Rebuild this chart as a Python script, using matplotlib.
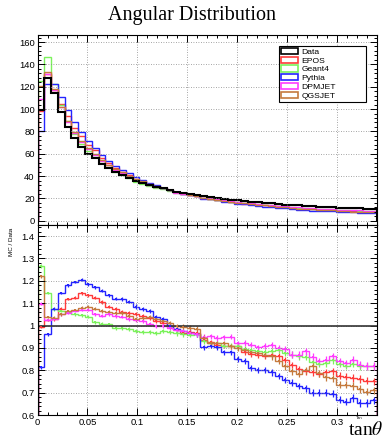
import numpy as np
import matplotlib
matplotlib.use('Agg')
import matplotlib.pyplot as plt
from matplotlib.patches import Rectangle

plt.rcParams['font.family'] = ['Liberation Sans', 'DejaVu Sans']
plt.rcParams['mathtext.fontset'] = 'stix'

# 50 bins in tan(theta), 0 .. 0.34
edges = np.linspace(0, 0.34, 51)

data_counts = [99, 128, 114, 97, 84, 74, 66, 60, 56, 51,
               47.5, 44, 41, 38.5, 36, 34, 32, 30.5, 29, 27.5,
               25.8, 24.7, 23.7, 22.8, 21.9, 21.1, 20.3, 19.6, 18.9, 18.2,
               17.6, 17.0, 16.5, 16.0, 15.5, 15.0, 14.6, 14.2, 13.8, 13.4,
               13.1, 12.8, 12.5, 12.2, 11.9, 11.6, 11.4, 11.2, 11.0, 10.8]

# MC / Data ratios
ratio_epos = [0.995, 1.025, 1.028, 1.075, 1.118, 1.125, 1.145, 1.135, 1.125, 1.105,
              1.085, 1.073, 1.06, 1.055, 1.05, 1.043, 1.034, 1.02, 1.01, 0.998,
              0.983, 0.968, 0.972, 0.967, 0.937, 0.925, 0.915, 0.91, 0.907, 0.91,
              0.88, 0.874, 0.87, 0.865, 0.87, 0.862, 0.847, 0.825, 0.805, 0.795,
              0.79, 0.783, 0.79, 0.795, 0.775, 0.772, 0.765, 0.76, 0.754, 0.75]
ratio_geant4 = [1.265, 1.145, 1.072, 1.065, 1.06, 1.05, 1.045, 1.04, 1.015, 1.008,
                1.005, 0.99, 0.99, 0.985, 0.975, 0.97, 0.97, 0.965, 0.975, 0.97,
                0.965, 0.96, 0.958, 0.96, 0.93, 0.92, 0.92, 0.91, 0.91, 0.907,
                0.895, 0.89, 0.885, 0.88, 0.885, 0.89, 0.877, 0.87, 0.862, 0.86,
                0.835, 0.83, 0.832, 0.845, 0.83, 0.82, 0.83, 0.82, 0.817, 0.817]
ratio_pythia = [0.813, 0.96, 1.076, 1.145, 1.18, 1.195, 1.205, 1.185, 1.17, 1.155,
                1.135, 1.12, 1.118, 1.107, 1.085, 1.076, 1.065, 1.04, 1.028, 1.0,
                0.983, 0.975, 0.968, 0.96, 0.902, 0.91, 0.903, 0.88, 0.88, 0.85,
                0.84, 0.81, 0.80, 0.80, 0.79, 0.773, 0.758, 0.745, 0.73, 0.72,
                0.70, 0.70, 0.70, 0.695, 0.668, 0.66, 0.675, 0.655, 0.655, 0.665]
ratio_dpmjet = [1.098, 1.025, 1.03, 1.05, 1.057, 1.065, 1.07, 1.07, 1.05, 1.043,
                1.05, 1.043, 1.04, 1.03, 1.025, 1.02, 1.005, 0.998, 1.0, 0.99,
                0.982, 0.975, 0.967, 0.96, 0.95, 0.952, 0.945, 0.947, 0.95, 0.92,
                0.922, 0.915, 0.902, 0.907, 0.913, 0.9, 0.895, 0.87, 0.87, 0.885,
                0.86, 0.84, 0.847, 0.862, 0.84, 0.832, 0.845, 0.825, 0.82, 0.82]
ratio_qgsjet = [1.22, 1.038, 1.035, 1.05, 1.065, 1.07, 1.08, 1.085, 1.075, 1.065,
                1.06, 1.057, 1.055, 1.043, 1.028, 1.035, 1.04, 1.028, 1.02, 1.012,
                0.998, 0.995, 0.99, 0.985, 0.945, 0.92, 0.92, 0.92, 0.907, 0.9,
                0.89, 0.88, 0.877, 0.87, 0.862, 0.84, 0.817, 0.795, 0.785, 0.8,
                0.817, 0.787, 0.77, 0.765, 0.735, 0.735, 0.73, 0.715, 0.705, 0.71]

ratio_err = [0.008, 0.006, 0.006, 0.006, 0.006, 0.006, 0.007, 0.007, 0.007, 0.007,
             0.008, 0.008, 0.008, 0.008, 0.009, 0.009, 0.009, 0.009, 0.010, 0.010,
             0.010, 0.010, 0.011, 0.011, 0.011, 0.011, 0.012, 0.012, 0.012, 0.012,
             0.013, 0.013, 0.013, 0.013, 0.014, 0.014, 0.014, 0.014, 0.015, 0.015,
             0.015, 0.015, 0.016, 0.016, 0.016, 0.016, 0.017, 0.017, 0.017, 0.017]

models = ['EPOS', 'Geant4', 'Pythia', 'DPMJET', 'QGSJET']
ratios = [ratio_epos, ratio_geant4, ratio_pythia, ratio_dpmjet, ratio_qgsjet]
colors = ['#ff3b3b', '#7cf25c', '#2424ff', '#ff3cff', '#c57a3e']

data = np.array(data_counts)
centers = 0.5 * (edges[:-1] + edges[1:])

fig = plt.figure(figsize=(3.84, 4.40), dpi=100)
ax1 = fig.add_axes([0.0977, 0.489, 0.8841, 0.432])
ax2 = fig.add_axes([0.0977, 0.0568, 0.8841, 0.4322])

# upper pad: distributions
for name, r, c in zip(models, ratios, colors):
    ax1.stairs(data * np.array(r), edges, color=c, lw=1.0)
ax1.stairs(data, edges, color='black', lw=1.5)

ax1.set_xlim(0, 0.34)
ax1.set_ylim(-3.6, 166.5)
ax1.set_yticks(np.arange(0, 161, 20))
ax1.set_yticks(np.arange(0, 166, 4), minor=True)
ax1.tick_params(labelbottom=False)

handles = [Rectangle((0, 0), 1, 1, facecolor='white', edgecolor='black', lw=1.2)]
handles += [Rectangle((0, 0), 1, 1, facecolor='white', edgecolor=c, lw=1.2) for c in colors]
leg = ax1.legend(handles, ['Data'] + models, loc='upper left',
                 bbox_to_anchor=(0.712, 0.643, 0.256, 0.299), mode='expand',
                 fontsize=6.1, handlelength=2.0, handleheight=0.75, labelspacing=0.08,
                 borderpad=0.25, handletextpad=0.4, borderaxespad=0, fancybox=False,
                 framealpha=1, edgecolor='black')
leg.get_frame().set_linewidth(0.8)

# lower pad: ratios
for r, c in zip(ratios, colors):
    ax2.stairs(r, edges, color=c, lw=1.0)
    ax2.errorbar(centers, r, yerr=ratio_err, fmt='s', color=c, ms=1.8, elinewidth=0.9,
                 capsize=0, mew=0)
ax2.hlines(1.0, edges[0], edges[-1], color='#333333', lw=1.2)

ax2.set_xlim(0, 0.34)
ax2.set_ylim(0.6, 1.45)
ax2.set_yticks(np.arange(0.6, 1.41, 0.1))
ax2.set_yticklabels(['0.6', '0.7', '0.8', '0.9', '1', '1.1', '1.2', '1.3', '1.4'])
ax2.set_yticks(np.arange(0.6, 1.45, 0.02), minor=True)
ax2.set_xticks([0, 0.05, 0.1, 0.15, 0.2, 0.25, 0.3])
ax2.set_xticklabels(['0', '0.05', '0.1', '0.15', '0.2', '0.25', '0.3'])

for ax in (ax1, ax2):
    ax.set_xticks(np.arange(0, 0.341, 0.01), minor=True)
    ax.grid(True, which='major', ls=(0, (1, 2)), color='#888888', lw=0.6)
    ax.tick_params(which='both', direction='in', top=True, right=True, labelsize=6.8,
                   width=0.7, pad=2)
    ax.tick_params(which='major', length=5)
    ax.tick_params(which='minor', length=2.5)
    for s in ax.spines.values():
        s.set_linewidth(0.8)

fig.text(0.5, 0.965, 'Angular Distribution', ha='center', va='center',
         family='Liberation Serif', fontsize=14.5)
fig.text(0.031, 0.45, 'MC / Data', rotation=90, ha='center', va='center', fontsize=4.5)
fig.text(0.998, 0.003, r'tan$\theta$', ha='right', va='bottom',
         family='Liberation Serif', fontsize=14)
fig.text(0.935, 0.049, 'Tan', ha='center', va='center', fontsize=3)

fig.savefig('out.png', dpi=100)
